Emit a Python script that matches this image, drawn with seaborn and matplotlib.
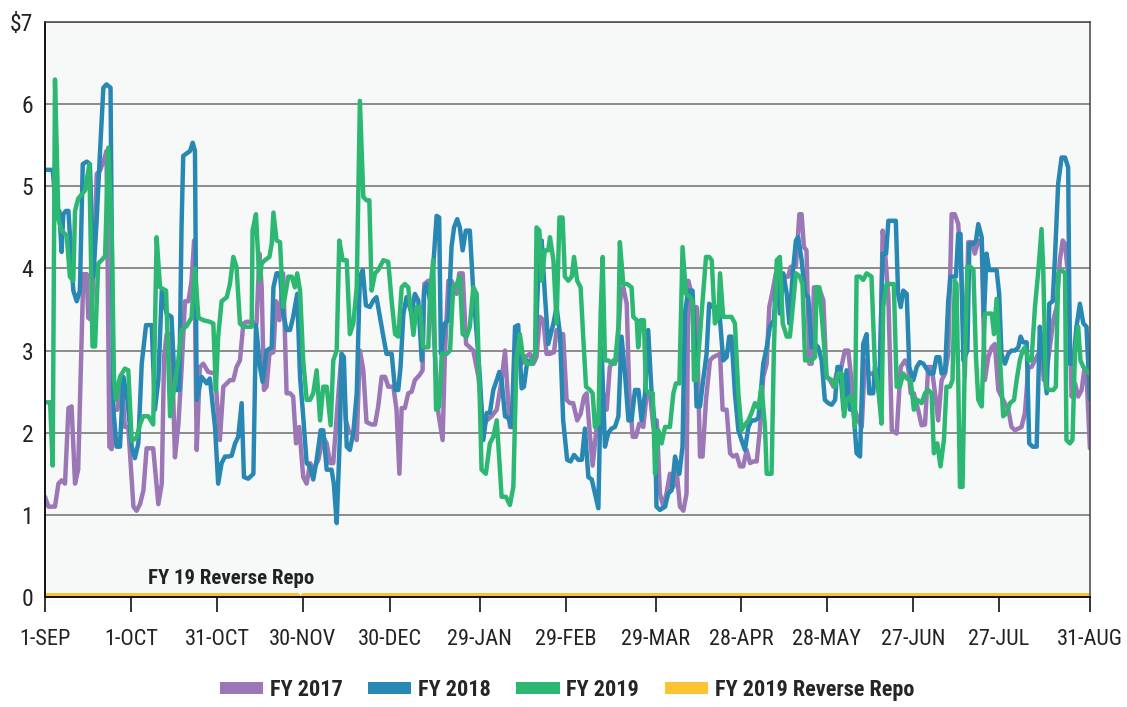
import numpy as np
import pandas as pd
import matplotlib
matplotlib.use("Agg")
import matplotlib.pyplot as plt
import seaborn as sns
from matplotlib.patches import Patch
from matplotlib import font_manager

# ---------------- data (day offset from 1-SEP, value in $ trillions) ----------------
fy2017 = [(0, 1.22), (1.2, 1.1), (3.5, 1.1), (4.7, 1.38), (5.8, 1.42), (7.0, 1.38), (8.2, 2.3), (9.3, 2.32),
          (10.5, 1.38), (11.6, 1.55), (12.8, 3.13), (13.4, 3.93), (14.6, 3.93), (15.1, 3.4), (16.3, 3.37),
          (17.5, 4.5), (18.1, 5.15), (19.2, 5.19), (20.4, 5.3), (21.5, 5.43), (22.5, 1.83), (23.3, 1.8),
          (24.1, 2.28), (25.3, 2.28), (26.8, 2.64), (27.9, 2.07), (29.1, 2.07), (30.9, 1.1), (32.0, 1.05),
          (33.2, 1.13), (34.4, 1.3), (35.5, 1.81), (37.8, 1.81), (39.6, 1.13), (40.8, 1.38), (41.6, 2.92),
          (42.5, 3.2), (44.2, 3.2), (45.4, 1.7), (46.6, 2.1), (47.7, 2.76), (48.9, 3.6), (50.1, 3.6),
          (51.2, 3.85), (52.1, 4.34), (53.0, 1.79), (54.1, 2.8), (55.3, 2.84), (57.0, 2.74),
          (59.4, 2.72), (61.1, 1.91), (62.3, 2.56), (63.5, 2.6), (64.6, 2.64), (65.8, 2.64), (66.9, 2.8),
          (68.1, 2.88), (69.3, 3.33), (70.4, 3.35), (72.2, 3.35), (73.9, 3.33), (74.9, 4.18), (75.7, 3.77),
          (76.5, 2.52), (77.4, 2.56), (78.4, 2.96), (79.8, 2.98), (80.7, 3.6), (81.9, 3.37), (83.2, 3.94),
          (84.4, 2.48), (85.6, 2.48), (86.7, 2.44), (87.7, 1.87), (88.8, 2.07), (90.2, 1.46), (91.4, 1.38),
          (92.6, 1.63), (93.7, 1.55), (95.5, 1.67), (97.2, 1.95), (98.4, 1.87), (99.6, 1.63), (100.7, 1.63),
          (102.5, 2.48), (103.6, 2.96), (105.1, 2.15), (106.3, 2.0), (107.7, 2.0), (108.9, 1.91), (110.0, 3.0),
          (111.2, 2.76), (112.3, 2.13), (114.1, 2.1), (115.3, 2.1), (116.4, 2.32),
          (117.6, 2.68), (118.8, 2.68), (119.9, 2.56), (121.7, 2.56), (122.8, 2.28), (123.8, 1.5), (124.6, 2.3),
          (125.7, 2.3), (126.9, 2.48), (128.1, 2.5), (129.2, 2.64), (130.8, 2.7), (131.9, 2.76), (132.5, 3.81),
          (133.9, 3.85), (135.1, 3.69), (136.2, 2.96), (137.4, 2.24), (138.9, 1.91), (139.7, 2.96), (140.9, 3.85),
          (142.0, 3.85), (143.8, 3.69), (144.7, 3.94), (145.9, 3.94), (147.1, 3.08), (148.4, 3.04), (149.6, 3.0),
          (151.4, 2.68), (153.1, 2.07), (154.3, 2.15), (156.0, 2.2), (157.8, 2.28), (159.5, 2.64), (160.7, 3.0),
          (161.6, 2.48), (162.4, 2.07), (163.6, 2.07), (164.7, 3.17), (166.5, 2.84), (167.7, 2.92), (169.4, 2.96),
          (170.6, 2.84), (171.7, 2.92), (172.9, 3.41), (174.1, 3.37), (175.2, 2.96), (176.4, 2.96),
          (177.8, 2.98), (178.7, 3.25), (179.9, 3.2), (181.0, 3.2), (182.2, 2.4), (183.4, 2.36), (184.5, 2.36),
          (185.9, 2.15), (187.1, 2.23), (188.3, 2.44), (189.2, 2.48), (190.4, 1.95), (191.3, 1.6), (192.7, 2.07),
          (193.9, 2.07), (195.0, 2.48), (196.2, 2.28), (197.3, 2.8), (198.5, 2.88), (199.7, 2.88), (201.1, 3.69),
          (202.0, 3.77), (203.2, 3.57), (204.1, 2.48), (205.3, 1.95), (206.4, 1.95), (207.6, 2.11), (209.0, 2.07),
          (210.2, 2.48), (211.3, 2.48), (212.5, 2.07), (213.7, 2.15), (214.8, 1.26), (216.0, 1.1), (217.1, 1.26),
          (218.3, 1.5), (219.5, 1.34), (220.6, 1.55), (221.8, 1.1), (223.0, 1.05), (224.1, 1.26), (224.7, 3.85),
          (225.9, 3.69), (227.0, 2.88), (227.6, 3.53), (228.8, 1.71), (229.7, 1.71), (230.9, 2.4), (232.3, 2.88),
          (233.4, 2.92), (234.6, 2.94), (235.8, 2.96), (236.7, 2.28), (238.1, 2.28), (239.3, 1.75),
          (240.4, 1.71), (241.6, 1.73), (242.8, 1.59), (243.9, 1.59), (245.1, 1.79), (246.3, 1.63), (247.4, 1.65),
          (248.6, 1.65), (249.7, 2.03), (250.9, 2.68), (252.1, 2.84), (253.0, 3.53), (254.2, 3.73), (255.3, 3.94),
          (256.5, 3.73), (257.7, 3.85), (258.8, 3.9), (259.6, 3.9), (260.5, 4.02), (262.3, 4.02), (263.5, 4.66),
          (264.3, 4.66), (265.1, 4.26), (266.0, 4.22), (267.0, 2.84), (267.8, 2.84), (268.6, 3.77), (269.8, 3.77),
          (270.7, 3.73), (271.9, 3.61), (273.0, 2.68), (274.2, 2.64), (275.4, 2.56), (276.5, 2.72), (277.7, 2.72),
          (279.4, 3.0), (280.6, 3.0), (281.8, 2.6), (282.9, 2.28), (284.1, 2.15), (285.3, 2.07), (286.4, 2.88),
          (287.6, 2.72), (289.1, 2.72), (290.5, 2.64), (291.7, 2.68), (292.6, 4.46), (293.4, 4.22), (294.6, 3.65),
          (295.8, 2.03), (297.5, 1.99),
          (298.9, 2.8), (300.4, 2.88), (301.5, 2.8), (302.4, 2.48), (303.5, 2.48), (305.0, 2.28), (306.2, 2.09),
          (307.4, 2.1), (308.5, 2.8), (309.7, 2.8), (310.9, 2.48), (312.0, 2.15), (313.2, 2.64), (314.4, 2.72),
          (315.5, 2.96), (316.7, 4.66), (317.8, 4.66), (319.0, 4.54), (320.2, 3.85), (321.3, 2.68), (322.5, 4.32),
          (323.7, 4.32), (324.8, 4.18), (326.0, 4.34), (327.2, 4.3), (328.3, 2.64), (329.5, 2.92), (330.7, 3.04),
          (331.8, 3.08), (333.0, 2.52), (334.1, 2.44), (335.3, 2.36), (336.5, 2.28), (337.6, 2.07), (338.8, 2.03),
          (340.0, 2.05), (341.1, 2.07), (342.3, 2.24), (343.5, 2.8), (344.6, 2.8), (345.8, 2.88), (347.0, 2.96),
          (348.1, 2.92), (348.9, 2.64), (349.9, 2.76), (351.0, 3.04), (352.2, 3.37), (353.4, 3.53), (354.5, 4.1),
          (355.5, 4.34), (356.3, 4.3), (357.4, 3.9), (358.6, 2.44), (359.8, 2.6), (360.9, 2.44), (362.1, 2.52),
          (363.0, 2.76), (363.8, 2.72), (365.0, 1.81)]

fy2018 = [(0, 5.2), (2.7, 5.2), (4.1, 4.62), (5.0, 4.7), (5.8, 4.2), (6.4, 4.66), (7.3, 4.7), (8.2, 4.7), (9.0, 4.25),
          (9.9, 3.73), (11.1, 3.6), (12.2, 3.73), (13.2, 5.27), (14.6, 5.3), (15.7, 5.27), (16.9, 3.9), (18.1, 4.62),
          (19.2, 5.4), (20.4, 6.2), (21.5, 6.24), (22.9, 6.2), (23.3, 4.5), (23.9, 2.28), (25.0, 1.83), (26.2, 1.83),
          (27.4, 2.68), (28.8, 2.4), (30.3, 1.83), (31.4, 1.69), (32.6, 1.87), (33.8, 2.84), (35.3, 3.31), (37.3, 3.31),
          (38.4, 2.28), (39.6, 2.64), (40.8, 3.73), (42.5, 3.45), (44.2, 3.41), (45.4, 2.52), (46.9, 2.52), (47.7, 4.5),
          (48.3, 5.37), (49.5, 5.4), (50.7, 5.43), (51.6, 5.53), (52.4, 5.43), (53.0, 2.4), (54.7, 2.68), (56.5, 2.6),
          (57.6, 2.66), (59.4, 2.07), (60.5, 1.38), (61.7, 1.63), (62.9, 1.71), (64.0, 1.71), (65.2, 1.72), (66.4, 1.87),
          (67.5, 1.95), (68.7, 2.36), (69.5, 1.46), (71.0, 1.44), (72.8, 1.5), (73.7, 3.31), (75.1, 2.8), (76.0, 2.62),
          (77.4, 3.0), (79.2, 3.04), (79.8, 3.77), (80.9, 3.94), (82.1, 3.94), (83.2, 3.45), (84.4, 3.25), (85.6, 3.25),
          (86.7, 3.41), (88.1, 3.69), (89.1, 2.68), (90.2, 2.2), (91.4, 1.63), (92.6, 1.59), (93.7, 1.43), (94.9, 1.67),
          (96.3, 2.03), (97.2, 2.03), (98.4, 1.55), (100.1, 1.55), (100.9, 1.38), (101.9, 0.9), (103.0, 1.95),
          (103.6, 2.96), (104.4, 2.92), (105.4, 1.83), (106.5, 1.79), (107.7, 2.0), (108.9, 2.48), (110.0, 3.9),
          (111.0, 3.98), (112.1, 3.55), (113.5, 3.53), (114.7, 3.61), (115.8, 3.65),
          (118.2, 3.17), (119.3, 2.96), (121.1, 2.96), (122.3, 2.52), (123.4, 2.52), (124.2, 2.8), (125.2, 3.45),
          (126.3, 3.65), (128.1, 3.45), (129.2, 3.69), (130.4, 3.61), (131.6, 2.88), (132.4, 3.73), (133.3, 3.81),
          (134.5, 3.61), (135.6, 4.02), (136.8, 4.64), (137.7, 4.62), (138.3, 2.96), (139.7, 3.33), (140.9, 3.37),
          (142.0, 4.26), (142.9, 4.5), (144.0, 4.6), (144.9, 4.5), (145.9, 4.22), (147.0, 4.46), (148.4, 4.46),
          (149.6, 3.73), (150.8, 3.2), (151.9, 2.68), (153.1, 1.91), (154.3, 2.24), (155.4, 2.24), (156.6, 2.52),
          (157.8, 2.64), (158.7, 2.74), (159.5, 2.64), (160.7, 2.2), (161.8, 2.18), (163.0, 2.07), (164.2, 3.29),
          (165.3, 3.31), (166.5, 2.54), (167.3, 2.56), (168.5, 2.88), (170.0, 2.84), (171.2, 2.96), (172.3, 3.9),
          (173.5, 4.34), (174.6, 3.69), (175.8, 3.08),
          (177.6, 3.33), (178.7, 3.53), (179.9, 3.2), (181.0, 2.15), (182.4, 1.67), (183.6, 1.65), (184.8, 1.73),
          (186.3, 1.67), (187.5, 1.67), (188.6, 2.05), (189.8, 1.46), (191.0, 1.43), (192.1, 1.26), (193.3, 1.08),
          (194.4, 3.04), (195.6, 1.83), (196.8, 2.0), (197.9, 2.05), (199.1, 2.07), (200.3, 2.2), (201.4, 3.17),
          (202.6, 2.72), (203.8, 2.15), (204.9, 2.15), (206.1, 2.52), (207.3, 2.52), (208.4, 2.15), (209.6, 2.48),
          (210.7, 3.25), (211.9, 2.48), (213.1, 2.07), (213.6, 1.1), (214.8, 1.06), (216.6, 1.1), (217.7, 1.26),
          (218.9, 1.3), (220.1, 1.71), (221.6, 1.5), (222.7, 1.83), (223.5, 3.45), (224.7, 3.73), (226.2, 3.73),
          (227.0, 3.08), (227.6, 2.32), (228.8, 2.32), (229.9, 2.64), (231.1, 2.96), (232.0, 3.57), (233.2, 3.53),
          (234.6, 3.53),
          (235.8, 3.37), (236.9, 2.88), (238.1, 2.92), (239.0, 3.17), (239.8, 3.17), (241.0, 2.48), (242.2, 2.03),
          (243.3, 1.91), (244.5, 1.79), (245.7, 2.07), (246.8, 2.15), (248.0, 2.15), (249.2, 2.18), (250.0, 2.48),
          (250.9, 2.84), (252.1, 3.04), (253.2, 3.29), (254.6, 3.37), (255.6, 3.94), (256.7, 3.45), (257.9, 3.94),
          (259.1, 3.69), (260.0, 3.33), (261.2, 3.94), (262.3, 4.34), (263.1, 4.38), (264.3, 4.1), (265.5, 3.69),
          (266.6, 3.65), (267.8, 3.04), (269.0, 3.08), (270.1, 3.04), (271.3, 2.88), (272.4, 2.4), (273.6, 2.36),
          (274.8, 2.34), (276.0, 2.4), (276.8, 2.8), (277.7, 2.8), (278.9, 2.28), (280.0, 2.76), (281.2, 2.28),
          (282.3, 2.32), (283.5, 1.75), (284.7, 1.71), (285.8, 3.08), (287.0, 3.2), (287.9, 2.48), (289.3, 2.48),
          (289.9, 2.8), (291.4, 2.48), (292.6, 4.18), (293.8, 4.18), (294.6, 4.58),
          (296.3, 4.58), (297.2, 4.58), (298.0, 3.69), (298.9, 3.53), (299.8, 3.73), (301.0, 3.69), (301.9, 2.8),
          (303.3, 2.64), (304.5, 2.8), (305.6, 2.86), (306.8, 2.84), (307.9, 2.78), (309.1, 2.72), (310.3, 2.72),
          (311.4, 2.92), (312.4, 2.92), (313.2, 2.72), (314.4, 2.74), (315.5, 3.6), (316.3, 3.9), (317.3, 3.9),
          (318.2, 3.9), (319.0, 4.42), (319.8, 4.42), (320.8, 2.88), (322.2, 3.0), (322.9, 4.3), (324.3, 4.3),
          (325.2, 4.34), (326.0, 4.54), (327.2, 4.38), (328.0, 3.41), (328.9, 4.18), (329.8, 3.98), (331.2, 3.98),
          (332.4, 3.98), (333.3, 3.69), (334.1, 2.96), (335.3, 2.84), (336.5, 2.96), (337.6, 3.0), (338.8, 3.0),
          (340.0, 3.04), (340.8, 3.17), (341.7, 3.1), (342.9, 3.1), (343.8, 1.87), (345.0, 1.83), (346.4, 1.83),
          (347.5, 3.29), (348.7, 2.96), (349.9, 2.48), (350.8, 3.57), (352.0, 3.6), (352.8, 4.14), (353.9, 5.03),
          (355.1, 5.35), (356.3, 5.35), (357.4, 5.23), (358.0, 2.84), (359.2, 2.84), (360.3, 3.29), (361.5, 3.57),
          (362.7, 3.33), (363.8, 3.29), (365.0, 2.4)]

fy2019 = [(0, 2.37), (1.8, 2.37), (2.7, 1.6), (3.5, 6.3), (4.7, 4.6), (5.8, 4.46), (7.6, 4.4), (8.7, 3.9), (9.9, 3.85),
          (10.5, 4.7), (11.6, 4.85), (12.8, 4.9), (14.0, 4.95), (15.5, 5.27), (16.6, 3.05), (17.5, 3.05), (18.6, 4.06),
          (19.8, 4.1), (21.0, 4.15), (22.1, 5.47), (23.3, 4.5), (24.1, 2.68), (24.8, 2.4), (26.2, 2.68), (27.9, 2.78),
          (29.1, 2.76), (30.3, 1.9), (32.0, 1.94), (33.2, 2.1), (34.3, 2.2), (36.1, 2.2), (37.8, 2.1), (39.0, 4.38),
          (40.2, 3.77), (42.3, 3.73), (43.7, 2.2), (44.8, 2.48), (46.6, 2.89), (47.7, 3.25), (49.5, 3.3), (51.2, 3.4),
          (52.4, 4.0), (53.6, 3.4), (55.3, 3.37),
          (57.6, 3.35), (58.8, 3.33), (59.7, 2.52), (60.5, 3.17), (61.7, 3.6), (63.5, 3.65), (64.6, 3.81), (65.8, 4.14),
          (66.9, 4.02), (68.1, 3.33), (69.3, 3.29), (71.0, 3.29), (72.2, 3.29), (72.5, 4.46), (73.7, 4.66), (74.9, 3.85),
          (75.7, 4.06), (76.8, 4.1), (78.4, 4.14), (79.2, 4.3), (79.8, 4.68), (80.9, 4.34), (82.1, 4.32), (83.2, 3.53),
          (85.0, 3.9), (86.2, 3.9), (87.3, 3.77), (88.1, 3.94), (89.1, 3.73), (90.2, 2.88), (91.4, 2.4), (92.6, 2.4),
          (93.7, 2.48), (94.9, 2.76), (96.1, 2.15), (97.2, 2.56), (98.4, 2.56), (99.8, 2.09), (100.7, 2.88),
          (101.9, 3.0), (102.8, 4.34), (104.0, 4.1), (105.4, 4.1), (106.5, 3.2), (107.7, 3.33), (108.9, 3.77),
          (110.0, 6.04), (111.2, 4.87), (112.3, 4.83), (113.3, 4.83), (114.1, 3.73), (115.3, 3.94), (116.4, 3.98),
          (118.2, 4.1), (119.9, 4.08), (121.1, 3.6), (122.3, 3.2), (123.4, 3.17), (124.6, 3.77), (125.7, 3.81),
          (126.9, 3.77), (128.7, 3.19), (129.8, 3.53), (131.0, 3.53), (132.1, 3.04), (133.9, 3.04), (134.5, 3.69),
          (135.6, 4.1), (136.6, 2.28), (137.7, 2.32), (138.6, 2.96), (140.3, 2.96), (141.5, 3.0), (142.6, 3.77),
          (143.8, 3.81), (144.9, 3.9), (145.9, 3.2), (147.3, 3.17), (148.4, 3.29), (149.6, 3.77), (150.8, 3.69),
          (151.7, 2.64), (152.5, 1.55), (154.0, 1.5), (155.4, 1.87), (156.6, 1.95), (157.8, 2.15), (158.7, 1.67),
          (159.5, 1.22), (161.0, 1.22), (162.4, 1.12), (163.6, 1.34), (164.7, 2.88), (165.9, 3.2), (166.8, 2.96),
          (168.2, 2.84), (170.0, 2.84), (171.2, 2.96), (171.7, 4.5), (172.7, 4.46), (173.5, 3.85), (174.6, 4.22),
          (175.8, 4.22),
          (176.4, 4.38), (177.6, 4.1), (178.7, 3.33), (179.7, 4.62), (180.8, 4.62), (181.6, 3.9), (182.8, 3.85),
          (184.0, 3.9), (184.8, 4.14), (185.9, 3.85), (187.1, 3.77), (188.0, 3.17), (189.0, 2.56), (190.4, 2.52),
          (191.3, 2.48), (192.1, 2.07), (193.3, 2.11), (194.1, 3.45), (194.8, 4.14), (195.6, 2.88), (196.8, 2.88),
          (197.9, 2.84), (199.1, 2.84), (200.3, 3.29), (200.8, 4.32), (202.0, 3.81), (203.4, 3.81), (204.9, 3.77),
          (205.5, 3.41), (206.7, 3.37), (207.2, 3.04), (208.1, 3.37), (209.2, 3.37), (209.9, 2.52), (211.1, 2.48),
          (212.3, 2.48), (213.1, 1.5), (214.2, 2.03), (215.4, 1.87), (216.6, 2.07), (218.3, 2.07), (219.5, 2.48),
          (220.4, 2.6), (221.6, 2.6), (222.7, 4.26), (223.9, 3.69), (225.3, 3.65), (226.2, 3.61), (226.7, 2.64),
          (227.6, 2.64), (228.8, 3.2), (229.9, 3.69), (230.9, 4.14), (232.0, 4.14), (232.9, 4.1), (234.0, 3.33),
          (235.2, 3.41),
          (235.8, 3.94), (236.9, 3.41), (238.1, 3.41), (239.8, 3.41), (241.0, 3.33), (242.2, 2.48), (243.3, 2.03),
          (244.5, 2.1), (245.7, 2.15), (246.8, 2.24), (248.0, 2.36), (249.2, 2.3), (250.3, 2.56), (251.5, 2.07),
          (252.1, 1.5), (253.8, 1.5), (254.6, 3.0), (255.6, 4.1), (256.7, 4.14), (257.7, 3.33), (259.1, 3.17),
          (260.2, 3.17), (261.4, 3.6), (262.3, 3.94), (263.7, 3.9), (264.6, 3.81), (265.5, 2.88), (266.6, 2.88),
          (267.8, 2.88), (269.0, 2.92), (269.5, 3.77), (270.5, 3.77), (271.9, 3.17), (273.0, 2.68), (274.8, 2.64),
          (276.0, 2.56), (277.1, 2.72), (278.3, 2.72), (279.1, 2.2), (280.0, 2.4), (281.2, 2.44), (282.3, 2.32),
          (282.9, 2.07), (283.5, 3.9), (284.7, 3.9), (285.8, 3.86), (287.0, 3.94), (288.7, 3.9), (289.9, 2.8),
          (291.1, 2.52), (292.2, 2.11), (292.8, 3.53), (294.0, 3.81),
          (295.1, 3.81), (296.5, 3.81), (297.5, 2.56), (298.6, 2.56), (299.8, 2.72), (301.0, 2.66), (302.4, 2.64),
          (303.5, 2.28), (304.7, 2.4), (306.2, 2.36), (307.4, 2.48), (308.5, 2.52), (309.7, 2.48), (310.5, 1.75),
          (311.7, 1.87), (312.8, 1.59), (314.0, 1.91), (314.9, 2.56), (316.1, 2.56), (317.0, 2.64), (317.8, 3.85),
          (318.4, 3.81), (319.0, 2.64), (319.6, 1.34), (320.5, 1.34), (321.3, 2.88), (322.2, 4.02), (323.3, 4.02),
          (324.3, 3.98), (325.2, 2.92), (326.0, 2.4), (327.2, 2.32), (328.3, 3.45), (329.5, 3.45), (330.7, 3.45),
          (331.5, 3.2), (332.4, 3.63), (333.6, 2.88), (334.7, 2.2), (335.9, 2.24), (337.1, 2.36), (338.5, 2.4),
          (339.4, 2.64), (340.5, 2.88), (341.5, 3.0), (342.3, 3.04), (343.5, 2.88), (344.6, 2.88), (345.8, 3.53),
          (347.0, 3.98), (348.1, 4.48), (348.7, 3.98), (349.6, 2.56), (350.8, 2.52), (352.2, 2.52), (353.1, 2.56),
          (353.9, 3.94), (355.1, 3.98), (356.3, 3.94), (356.8, 1.91), (358.0, 1.87), (358.9, 1.91), (359.8, 3.0),
          (360.9, 3.29), (361.7, 2.88), (362.7, 2.8), (363.8, 2.76), (364.8, 2.72)]

# FY 2019 reverse repo: near zero all year, with one missing point near 30-NOV
repo_days = [0, 88, 89, 90, 365]
repo_vals = [0.03, 0.03, np.nan, 0.03, 0.03]

series_names = ["FY 2017", "FY 2018", "FY 2019"]
legend_names = ["FY 2017", "FY 2018", "FY 2019", "FY 2019 Reverse Repo"]
colors = ["#9b77b6", "#2887b3", "#2cb872", "#fbc334"]

tick_days = [0, 30.0, 60.1, 90.1, 120.5, 151.9, 181.9, 213.4, 243.1, 273.1, 303.2, 333.2, 365]
tick_labels = ["1-SEP", "1-OCT", "31-OCT", "30-NOV", "30-DEC", "29-JAN", "29-FEB", "29-MAR",
               "28-APR", "28-MAY", "27-JUN", "27-JUL", "31-AUG"]
y_ticks = [0, 1, 2, 3, 4, 5, 6, 7]
y_labels = ["0", "1", "2", "3", "4", "5", "6", r"\$7"]

# ---------------- build long-form tables ----------------
frames = []
for name, pts in zip(series_names, [fy2017, fy2018, fy2019]):
    d = pd.DataFrame(pts, columns=["day", "value"])
    d["series"] = name
    frames.append(d)
df = pd.concat(frames, ignore_index=True)

repo = pd.DataFrame({"day": repo_days, "value": repo_vals})
repo["segment"] = repo["value"].isna().cumsum()
repo = repo.dropna()

# ---------------- style ----------------
sns.set_theme(style="white")
names = {f.name for f in font_manager.fontManager.ttflist}
pref = ["Roboto Condensed", "PT Sans Narrow", "Fira Sans Condensed", "Barlow Semi Condensed",
        "Archivo Narrow", "Asap Condensed"]
chosen = [n for n in pref if n in names][:1]
plt.rcParams["font.family"] = chosen + ["DejaVu Sans"]

fig = plt.figure(figsize=(11.27, 7.07), dpi=100)
ax = fig.add_axes([0.0399, 0.1556, 0.9272, 0.8133])
ax.set_facecolor("#f7f9f9")

sns.lineplot(data=df, x="day", y="value", hue="series", hue_order=series_names,
             palette=colors[:3], estimator=None, sort=True, linewidth=3.2, ax=ax, legend=False)
sns.lineplot(data=repo, x="day", y="value", units="segment", estimator=None,
             color=colors[3], linewidth=3.6, ax=ax, legend=False)

ax.set_xlim(0, 365)
ax.set_ylim(0, 7)
ax.set_xlabel("")
ax.set_ylabel("")
ax.set_yticks(y_ticks)
ax.set_yticklabels(y_labels)
ax.set_xticks(tick_days)
ax.set_xticklabels(tick_labels)
ax.yaxis.grid(True, color="#6e6e6e", linewidth=1.1)
ax.xaxis.grid(False)
ax.set_axisbelow(True)

ax.tick_params(axis="y", length=0, pad=8.5, labelsize=17, labelcolor="#222222")
ax.tick_params(axis="x", direction="out", length=11, width=1.2, color="#111111",
               pad=12, labelsize=16, labelcolor="#222222", bottom=True)
for side in ["left", "bottom"]:
    ax.spines[side].set_color("#111111")
    ax.spines[side].set_linewidth(1.4)
for side in ["top", "right"]:
    ax.spines[side].set_color("#444444")
    ax.spines[side].set_linewidth(1.1)

ax.text(65, 0.23, "FY 19 Reverse Repo", ha="center", va="center",
        fontsize=15, fontweight="bold", color="#222222")

handles = [Patch(facecolor=c, edgecolor="none") for c in colors]
fig.legend(handles, legend_names, loc="center", bbox_to_anchor=(0.503, 0.024), ncol=4,
           frameon=False, handlelength=1.95, handleheight=0.5, handletextpad=0.3,
           columnspacing=1.15, prop={"weight": "bold", "size": 16})

fig.savefig("out.png", dpi=100, facecolor="white")
